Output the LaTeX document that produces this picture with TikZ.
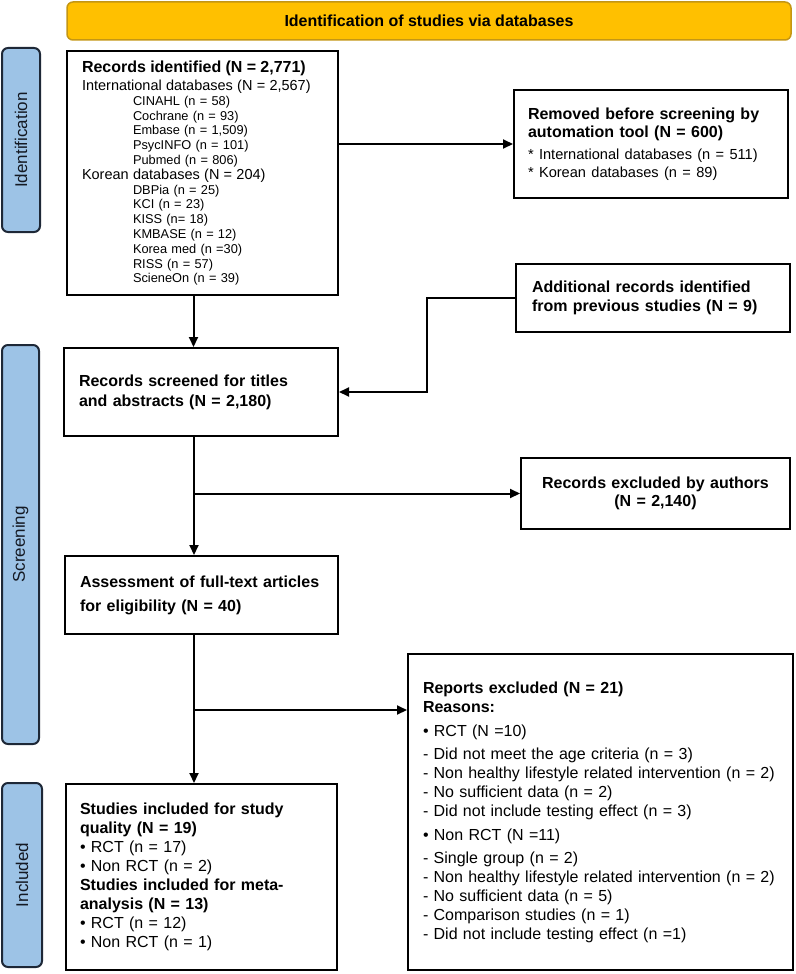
\documentclass[tikz,border=0pt]{standalone}
\usepackage{fontspec}
\setmainfont{Liberation Sans}
\usetikzlibrary{arrows.meta}
\definecolor{prismagold}{RGB}{255,192,0}
\definecolor{prismagoldedge}{RGB}{196,150,20}
\definecolor{phaseblue}{RGB}{157,195,230}
\definecolor{phaseedge}{RGB}{30,40,55}
\definecolor{phasetext}{RGB}{20,25,35}

\begin{document}
\begin{tikzpicture}[x=1pt, y=-1pt,
    box/.style={rectangle, draw=black, line width=2pt, fill=white,
                inner ysep=3pt, font=\fontsize{16}{19}\selectfont, align=left},
    phase/.style={rectangle, draw=phaseedge, line width=2pt, fill=phaseblue,
                  rounded corners=6pt, rotate=90, text=phasetext, inner sep=0pt,
                  font=\fontsize{17}{20}\selectfont},
    head/.style={rectangle, draw=prismagoldedge, line width=1.5pt, fill=prismagold,
                 rounded corners=6pt, minimum width=724pt, minimum height=38pt,
                 font=\fontsize{16}{19}\selectfont\bfseries},
    arr/.style={-{Triangle[length=10pt,width=9pt]}, line width=2pt}
  ]
    \useasboundingbox (0,0) rectangle (795,974);

    % header and phase bars
    \node[head] (hdr) at (429,21) {Identification of studies via databases};
    \node[phase, minimum width=184pt, minimum height=38pt] (pid)  at (21,140)    {Identification};
    \node[phase, minimum width=399pt, minimum height=37pt] (pscr) at (20.5,544.5) {Screening};
    \node[phase, minimum width=184pt, minimum height=40pt] (pinc) at (22,875)    {Included};

    % identification
    \node[box, minimum width=271pt, minimum height=244pt, text width=241pt,
          font=\fontsize{12.8}{14.8}\selectfont] (rec) at (202.5,173) {%
      {\fontsize{16}{14.8}\selectfont\bfseries Records identified (N = 2,771)}\\[3.7pt]
      {\fontsize{14.5}{14.8}\selectfont International databases (N = 2,567)}\\
      \hspace*{51pt}CINAHL (n = 58)\\
      \hspace*{51pt}Cochrane (n = 93)\\
      \hspace*{51pt}Embase (n = 1,509)\\
      \hspace*{51pt}PsycINFO (n = 101)\\
      \hspace*{51pt}Pubmed (n = 806)\\
      {\fontsize{14.5}{14.8}\selectfont Korean databases (N = 204)}\\
      \hspace*{51pt}DBPia (n = 25)\\
      \hspace*{51pt}KCI (n = 23)\\
      \hspace*{51pt}KISS (n= 18)\\
      \hspace*{51pt}KMBASE (n = 12)\\
      \hspace*{51pt}Korea med (n =30)\\
      \hspace*{51pt}RISS (n = 57)\\
      \hspace*{51pt}ScieneOn (n = 39)};
    \node[box, minimum width=274pt, minimum height=108pt, text width=246pt,
          font=\fontsize{16}{18}\selectfont] (rem) at (651,144) {%
      \textbf{Removed before screening by}\\
      \textbf{automation tool (N = 600)}\\[4pt]
      {\fontsize{14.6}{18}\selectfont * International databases (n = 511)}\\
      {\fontsize{14.6}{18}\selectfont * Korean databases (n = 89)}};
    \node[box, minimum width=274pt, minimum height=68pt, text width=242pt] (add) at (653,298) {%
      \textbf{Additional records identified}\\
      \textbf{from previous studies (N = 9)}};

    % screening
    \node[box, minimum width=274pt, minimum height=88pt, text width=244pt,
          font=\fontsize{16}{20}\selectfont] (scr) at (201,392) {%
      \textbf{Records screened for titles}\\
      \textbf{and abstracts (N = 2,180)}};
    \node[box, minimum width=269pt, minimum height=71pt, text width=240pt, align=center,
          font=\fontsize{16}{18}\selectfont] (exc) at (655.5,493.5) {%
      \textbf{Records excluded by authors}\\
      \textbf{(N = 2,140)}};
    \node[box, minimum width=273pt, minimum height=78pt, text width=243pt,
          font=\fontsize{16}{24}\selectfont] (ass) at (201.5,595) {%
      \textbf{Assessment of full-text articles}\\
      \textbf{for eligibility (N = 40)}};
    \node[box, minimum width=385pt, minimum height=316pt, text width=355pt] (rep) at (600.5,812) {%
      \textbf{Reports excluded (N = 21)}\\
      \textbf{Reasons:}\\[5pt]
      • RCT (N =10)\\[4pt]
      - Did not meet the age criteria (n = 3)\\
      - Non healthy lifestyle related intervention (n = 2)\\
      - No sufficient data (n = 2)\\
      - Did not include testing effect (n = 3)\\[5pt]
      • Non RCT (N =11)\\[4pt]
      - Single group (n = 2)\\
      - Non healthy lifestyle related intervention (n = 2)\\
      - No sufficient data (n = 5)\\
      - Comparison studies (n = 1)\\
      - Did not include testing effect (n =1)};

    % included
    \node[box, minimum width=271pt, minimum height=186pt, text width=243pt] (inc) at (201.5,877) {%
      \textbf{Studies included for study}\\
      \textbf{quality (N = 19)}\\
      • RCT (n = 17)\\
      • Non RCT (n = 2)\\
      \textbf{Studies included for meta-}\\
      \textbf{analysis (N = 13)}\\
      • RCT (n = 12)\\
      • Non RCT (n = 1)};

    % connectors
    \coordinate (spine) at (194,0);
    \coordinate (addturn) at (427,0);
    \coordinate (repin) at ([yshift=-57pt]rep.north west);
    \draw[arr] ([xshift=-9pt]rec.south) -- ([xshift=-9pt]rec.south |- scr.north);
    \draw[arr] (rec.east |- rem.west) -- (rem.west);
    \draw[arr] (add.west) -| (addturn |- scr.east) -- (scr.east);
    \draw[arr] (spine |- scr.south) -- (spine |- ass.north);
    \draw[arr] (spine |- exc.west) -- (exc.west);
    \draw[arr] (spine |- ass.south) -- (spine |- inc.north);
    \draw[arr] (spine |- repin) -- (repin);
  \end{tikzpicture}
\end{document}
